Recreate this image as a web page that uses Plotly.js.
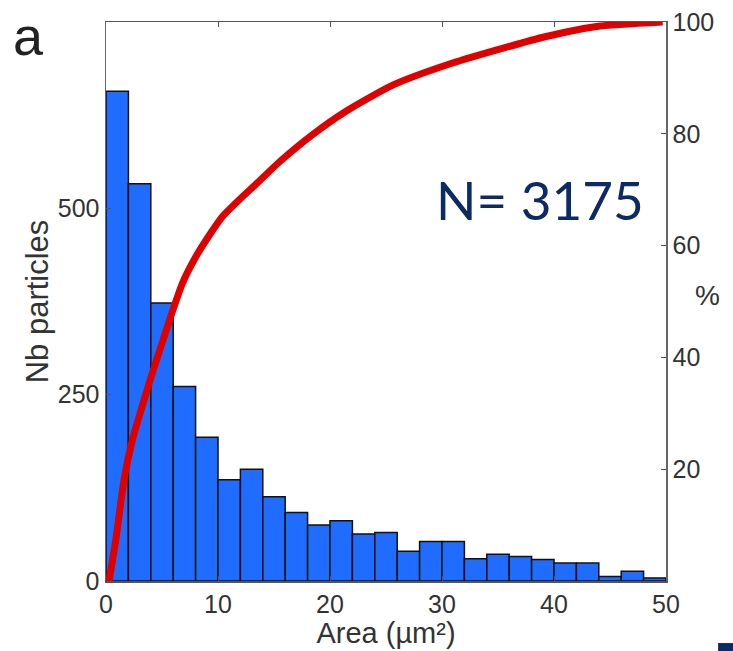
<!DOCTYPE html>
<html>
<head>
<meta charset="utf-8">
<script src="https://cdn.plot.ly/plotly-3.0.1.min.js"></script>
<style>html,body{margin:0;padding:0;background:#fff;}#chart{width:733px;height:651px;}</style>
</head>
<body>
<div id="chart"></div>
<script>
// Histogram: bin centres (µm²), width 2
var binCenters = [1,3,5,7,9,11,13,15,17,19,21,23,25,27,29,31,33,35,37,39,41,43,45,47,49];
var binCounts = [657,533,373,261,193,136,150,113,92,75,81,63,65,40,53,53,30,36,33,29,24,24,6,13,4];
// Cumulative curve (%)
var cumArea = [0.27,0.87,1.61,2.35,3.25,4.14,5.04,5.79,6.83,8.02,9.21,10.4,11.9,13.4,15.5,18.4,21.4,25.6,30.4,34.9,39.3,43.8,49.7];
var cumPct  = [0,7.3,18.1,25.2,31.4,37.2,42.8,47.4,53.3,58,61.8,65.2,68.2,71.0,75,79.8,84,88.7,92.3,95,97.4,99.2,100];
var xTicks = [0,10,20,30,40,50];
var yTicks = [0,250,500];
var y2Ticks = [20,40,60,80,100];

var bars = {
  type:'bar', x:binCenters, y:binCounts, width:2,
  marker:{color:'#1f6cff', line:{color:'#111', width:1.5}},
  hoverinfo:'x+y'
};
var cum = {
  type:'scatter', mode:'lines', x:cumArea, y:cumPct, yaxis:'y2',
  line:{color:'#e00000', width:7, shape:'spline', smoothing:0.6}
};
var FF = 'Liberation Sans, Arial, sans-serif';
var tickFont = {family:FF, size:25, color:'#333'};
var layout = {
  width:733, height:651,
  margin:{l:106, r:67, t:22, b:70, pad:0},
  paper_bgcolor:'#fff', plot_bgcolor:'#fff',
  showlegend:false, bargap:0,
  xaxis:{range:[0,50], tickvals:xTicks, ticks:'inside', ticklen:5, tickcolor:'#555',
    showline:true, linecolor:'#555', linewidth:1.5, mirror:'ticks', showgrid:false, zeroline:false,
    tickfont:tickFont, automargin:false,
    title:{text:'Area (µm²)', font:{family:FF, size:29, color:'#333'}, standoff:0}},
  yaxis:{range:[0,750], tickvals:yTicks, ticks:'inside', ticklen:5, tickcolor:'#555',
    showline:true, linecolor:'#666', linewidth:1.5, showgrid:false, zeroline:false,
    tickfont:tickFont, automargin:false,
    title:{text:'Nb particles', font:{family:FF, size:31, color:'#333'}, standoff:0}},
  yaxis2:{range:[0,100], overlaying:'y', side:'right', tickvals:y2Ticks, ticks:'inside', ticklen:5, tickcolor:'#555',
    showline:true, linecolor:'#666', linewidth:1.5, showgrid:false, zeroline:false,
    tickfont:tickFont, automargin:false, title:{text:''}},
  annotations:[
    {xref:'paper', yref:'paper', x:-0.139, y:0.975, xanchor:'center', yanchor:'middle', text:'a', showarrow:false,
     font:{family:FF, size:54, color:'#222'}},
    {xref:'paper', yref:'paper', x:1.0, y:0.683, xanchor:'right', yanchor:'middle', xshift:-20, text:'N= 3175', showarrow:false,
     font:{family:'Lato, DejaVu Sans, sans-serif', size:53, color:'#0b2a66'}},
    {xref:'paper', yref:'paper', x:1.0, y:0.51, xanchor:'left', yanchor:'middle', xshift:27, text:'%', showarrow:false,
     font:{family:FF, size:28, color:'#333'}}
  ],
  shapes:[
    {type:'rect', xref:'paper', yref:'paper', x0:1.093, x1:1.12, y0:-0.126, y1:-0.111, fillcolor:'#0b2a66', line:{width:0}, layer:'above'}
  ]
};
Plotly.newPlot('chart',[bars,cum],layout,{displayModeBar:false, staticPlot:true});
</script>
</body>
</html>
